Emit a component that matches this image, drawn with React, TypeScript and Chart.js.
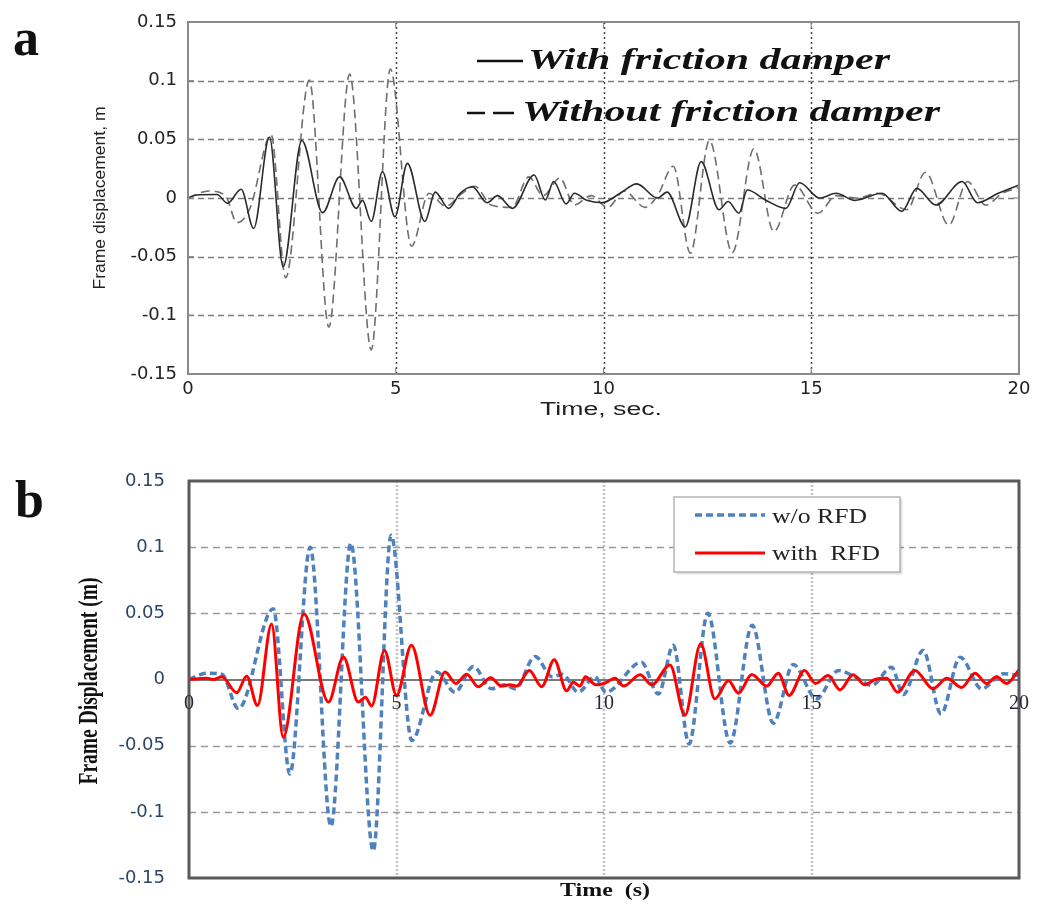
import React, { useEffect, useRef } from 'react';
import { Chart, registerables } from 'chart.js';
Chart.register(...registerables);

// ---------- axes ----------
const xTicks = [0, 5, 10, 15, 20];
const xTickLabels = ['0', '5', '10', '15', '20'];
const yTicks = [-0.15, -0.1, -0.05, 0, 0.05, 0.1, 0.15];
const yTickLabels = ['-0.15', '-0.1', '-0.05', '0', '0.05', '0.1', '0.15'];

// ---------- panel a : with / without friction damper ----------
const aTimeWith = [0, 0.2, 0.7, 0.95, 1.28, 1.58, 1.96, 2.29, 2.74, 3.24, 3.65, 4.05, 4.2, 4.41, 4.68, 4.98, 5.28, 5.7, 5.95, 6.27, 6.55, 6.84, 7.2, 7.45, 7.81, 8.33, 8.6, 8.8, 9.1, 9.3, 9.6, 9.96, 10.4, 10.8, 11.3, 11.53, 11.97, 12.35, 12.78, 13.0, 13.26, 13.46, 13.9, 14.39, 14.72, 15.2, 15.6, 16.05, 16.7, 17.18, 17.54, 18.0, 18.63, 19.0, 19.5, 20];
const aDispWith = [0, 0.0026, 0.003, -0.0045, 0.0074, -0.026, 0.052, -0.0585, 0.049, -0.0125, 0.018, -0.0088, -0.002, -0.02, 0.0224, -0.016, 0.0295, -0.02, 0.005, -0.0088, 0.004, 0.0096, -0.004, 0.002, -0.0088, 0.0196, -0.0017, 0.014, -0.005, 0.004, -0.002, -0.004, 0.004, 0.012, 0.0, 0.005, -0.0245, 0.031, -0.01, -0.003, -0.013, 0.0068, -0.0017, -0.0088, 0.013, 0.0, 0.004, -0.002, 0.004, -0.0114, 0.0082, -0.006, 0.014, -0.004, 0.004, 0.011];
const aTimeWithout = [0, 0.5, 0.9, 1.18, 1.5, 2.0, 2.35, 2.92, 3.39, 3.89, 4.41, 4.87, 5.38, 5.8, 6.2, 6.6, 6.9, 7.3, 7.8, 8.2, 8.55, 8.95, 9.3, 9.7, 10.1, 10.5, 11.0, 11.3, 11.68, 12.09, 12.55, 13.1, 13.62, 14.1, 14.6, 15.16, 15.6, 16.1, 16.6, 17.3, 17.75, 18.31, 18.76, 19.2, 19.6, 20];
const aDispWithout = [0, 0.006, 0.002, -0.021, -0.008, 0.054, -0.068, 0.1005, -0.11, 0.1056, -0.1295, 0.11, -0.041, 0.004, -0.007, 0.004, 0.01, -0.006, -0.008, 0.018, 0.002, 0.017, -0.006, 0.002, -0.008, 0.006, -0.008, 0.002, 0.027, -0.047, 0.049, -0.0466, 0.042, -0.0287, 0.011, -0.013, 0.002, 0.0, 0.004, -0.01, 0.022, -0.023, 0.014, -0.006, 0.004, 0.009];
const legendA = ['With friction damper', 'Without friction damper'];

// ---------- panel b : w/o RFD / with RFD ----------
const bTimeWithout = [0, 0.43, 0.79, 1.19, 2.03, 2.43, 2.92, 3.42, 3.9, 4.44, 4.87, 5.37, 5.97, 6.41, 6.85, 7.29, 7.6, 7.86, 8.34, 8.75, 9.0, 9.38, 9.78, 10.05, 10.9, 11.31, 11.67, 12.05, 12.5, 13.04, 13.57, 14.08, 14.56, 15.12, 15.65, 16.05, 16.45, 16.93, 17.21, 17.69, 18.12, 18.58, 19.1, 19.62, 20];
const bDispWithout = [0, 0.0048, 0.004, -0.022, 0.0535, -0.0715, 0.1, -0.111, 0.103, -0.1295, 0.109, -0.046, 0.0056, -0.0096, 0.0098, -0.007, -0.004, -0.007, 0.0174, 0.002, 0.004, -0.0096, 0.002, -0.0096, 0.013, -0.011, 0.0258, -0.0487, 0.05, -0.048, 0.041, -0.033, 0.0114, -0.0146, 0.0068, 0.002, -0.0045, 0.0093, -0.0114, 0.022, -0.026, 0.0169, -0.007, 0.0043, 0.003];
const bTimeWith = [0, 0.42, 0.6, 0.79, 1.15, 1.39, 1.65, 1.99, 2.27, 2.77, 3.36, 3.72, 4.08, 4.25, 4.4, 4.71, 5.0, 5.36, 5.81, 6.17, 6.43, 6.69, 6.97, 7.27, 7.53, 7.73, 7.9, 8.2, 8.5, 8.8, 9.1, 9.26, 9.42, 9.55, 9.8, 10.0, 10.27, 10.47, 10.87, 11.15, 11.59, 11.95, 12.33, 12.67, 13.0, 13.24, 13.56, 13.92, 14.2, 14.46, 14.83, 15.1, 15.4, 15.69, 16.0, 16.29, 16.53, 16.81, 17.07, 17.49, 17.93, 18.26, 18.62, 18.94, 19.22, 19.46, 19.7, 20.0];
const bDispWith = [0, 0.001, 0.0, 0.002, -0.01, 0.0025, -0.0197, 0.042, -0.0437, 0.0497, -0.017, 0.017, -0.017, -0.0135, -0.02, 0.022, -0.012, 0.0258, -0.027, 0.0056, -0.003, 0.004, -0.0055, 0.0013, -0.005, -0.004, -0.005, 0.0068, -0.0055, 0.015, -0.0085, -0.002, -0.005, 0.002, -0.004, -0.003, 0.001, -0.005, 0.0035, -0.004, 0.011, -0.027, 0.027, -0.0146, -0.001, -0.0104, 0.0038, -0.005, 0.0048, -0.012, 0.0068, -0.003, 0.003, -0.0078, 0.0035, -0.004, 0.0, 0.001, -0.0096, 0.0068, -0.007, 0.001, -0.006, 0.0048, -0.003, 0.002, -0.003, 0.0073];
const legendB = ['w/o RFD', 'with  RFD'];

const gridXValues = xTicks.filter((v) => v > 0 && v < 20);
const gridYValues = yTicks.filter((v) => Math.abs(v) < 0.14);

function pts(t: number[], v: number[]) {
  const n = Math.min(t.length, v.length);
  const out: { x: number; y: number }[] = [];
  for (let i = 0; i < n; i++) out.push({ x: t[i], y: v[i] });
  return out;
}

function txt(
  ctx: CanvasRenderingContext2D,
  s: string,
  x: number,
  y: number,
  font: string,
  color: string,
  o: { width?: number; align?: CanvasTextAlign; rotate?: number; baseline?: CanvasTextBaseline } = {}
) {
  ctx.save();
  ctx.font = font;
  ctx.fillStyle = color;
  ctx.textBaseline = o.baseline || 'alphabetic';
  ctx.textAlign = o.align || 'left';
  const w = ctx.measureText(s).width;
  const sx = o.width ? o.width / w : 1;
  ctx.translate(x, y);
  if (o.rotate) ctx.rotate(o.rotate);
  ctx.scale(sx, 1);
  ctx.fillText(s, 0, 0);
  ctx.restore();
}

function hLine(ctx: CanvasRenderingContext2D, x1: number, x2: number, y: number) {
  ctx.beginPath();
  ctx.moveTo(x1, y);
  ctx.lineTo(x2, y);
  ctx.stroke();
}
function vLine(ctx: CanvasRenderingContext2D, x: number, y1: number, y2: number) {
  ctx.beginPath();
  ctx.moveTo(x, y1);
  ctx.lineTo(x, y2);
  ctx.stroke();
}

const SANS = "'Liberation Sans', Arial, sans-serif";
const SERIF = "'Liberation Serif', 'Times New Roman', serif";

const panelAPlugin = {
  id: 'panelA',
  beforeDatasetsDraw(chart: any) {
    const { ctx, chartArea: ca, scales } = chart;
    const x = scales.x, y = scales.y;
    ctx.save();
    ctx.lineWidth = 1.4;
    ctx.strokeStyle = '#7c7c7c';
    ctx.setLineDash([6, 4]);
    for (const v of gridYValues) hLine(ctx, ca.left, ca.right, Math.round(y.getPixelForValue(v)) + 0.5);
    ctx.strokeStyle = '#3a3a3a';
    ctx.setLineDash([2, 3]);
    for (const t of gridXValues) vLine(ctx, Math.round(x.getPixelForValue(t)) + 0.5, ca.top, ca.bottom);
    ctx.restore();
  },
  afterDraw(chart: any) {
    const { ctx, chartArea: ca, scales } = chart;
    const x = scales.x, y = scales.y;
    ctx.save();
    ctx.strokeStyle = '#8a8a8a';
    ctx.lineWidth = 2;
    ctx.setLineDash([]);
    ctx.strokeRect(ca.left, ca.top, ca.width, ca.height);
    ctx.lineWidth = 1.2;
    for (const v of yTicks) {
      const py = y.getPixelForValue(v);
      hLine(ctx, ca.left, ca.left + 6, py);
      hLine(ctx, ca.right - 6, ca.right, py);
    }
    for (const t of xTicks) {
      const px = x.getPixelForValue(t);
      vLine(ctx, px, ca.bottom - 6, ca.bottom);
      vLine(ctx, px, ca.top, ca.top + 6);
    }
    // legend
    ctx.strokeStyle = '#111';
    ctx.lineWidth = 2.5;
    hLine(ctx, 477, 523, 61);
    hLine(ctx, 467, 485, 113);
    hLine(ctx, 493, 514, 113);
    ctx.restore();
    const lf = `italic bold 30px ${SERIF}`;
    txt(ctx, legendA[0], 528, 69, lf, '#111', { width: 362 });
    txt(ctx, legendA[1], 522, 121, lf, '#111', { width: 418 });
    // axis titles
    txt(ctx, 'Frame displacement, m', 100, 198, `17px ${SANS}`, '#222', { width: 183, align: 'center', baseline: 'middle', rotate: -Math.PI / 2 });
    txt(ctx, 'Time, sec.', 601, 410, `18px ${SANS}`, '#222', { width: 122, align: 'center', baseline: 'middle' });
    txt(ctx, 'a', 13, 55, `bold 52px ${SERIF}`, '#111');
  },
};

const panelBPlugin = {
  id: 'panelB',
  beforeDatasetsDraw(chart: any) {
    const { ctx, chartArea: ca, scales } = chart;
    const x = scales.x, y = scales.y;
    ctx.save();
    ctx.strokeStyle = '#c2c2c2';
    ctx.lineWidth = 2.5;
    ctx.setLineDash([2, 2]);
    for (const t of gridXValues) vLine(ctx, Math.round(x.getPixelForValue(t)), ca.top, ca.bottom);
    ctx.strokeStyle = '#9a9a9a';
    ctx.lineWidth = 1.5;
    ctx.setLineDash([7, 5]);
    for (const v of gridYValues) {
      if (v === 0) continue;
      hLine(ctx, ca.left, ca.right, Math.round(y.getPixelForValue(v)) + 0.5);
    }
    ctx.setLineDash([]);
    ctx.strokeStyle = '#7a7a7a';
    ctx.lineWidth = 2;
    hLine(ctx, ca.left, ca.right, Math.round(y.getPixelForValue(0)));
    ctx.restore();
  },
  afterDraw(chart: any) {
    const { ctx, chartArea: ca, scales } = chart;
    const x = scales.x, y = scales.y;
    ctx.save();
    ctx.strokeStyle = '#5a5a5a';
    ctx.lineWidth = 3;
    ctx.setLineDash([]);
    ctx.strokeRect(ca.left, ca.top, ca.width, ca.height);
    ctx.restore();
    // x tick labels on the zero line
    const y0 = y.getPixelForValue(0) + 24;
    xTicks.forEach((t, i) => {
      txt(ctx, xTickLabels[i], x.getPixelForValue(t), y0, `20px ${SERIF}`, '#25253a', { align: 'center', baseline: 'middle' });
    });
    // legend box
    ctx.save();
    ctx.shadowColor = 'rgba(0,0,0,0.18)';
    ctx.shadowOffsetX = 2;
    ctx.shadowOffsetY = 2;
    ctx.shadowBlur = 2;
    ctx.fillStyle = '#fff';
    ctx.fillRect(674, 47, 226, 75);
    ctx.shadowColor = 'transparent';
    ctx.strokeStyle = '#b5b5b5';
    ctx.lineWidth = 1.5;
    ctx.strokeRect(674, 47, 226, 75);
    ctx.strokeStyle = '#4f81bd';
    ctx.lineWidth = 3.5;
    ctx.setLineDash([7, 4]);
    hLine(ctx, 695, 765, 65);
    ctx.setLineDash([]);
    ctx.strokeStyle = '#ff0000';
    ctx.lineWidth = 3;
    hLine(ctx, 695, 765, 103);
    ctx.restore();
    txt(ctx, legendB[0], 772, 73, `22px ${SERIF}`, '#222', { width: 95 });
    txt(ctx, legendB[1], 772, 110, `22px ${SERIF}`, '#222', { width: 108 });
    // titles
    txt(ctx, 'Frame Displacement (m)', 90, 231, `bold 27px ${SERIF}`, '#111', { width: 207, align: 'center', baseline: 'middle', rotate: -Math.PI / 2 });
    txt(ctx, 'Time  (s)', 605, 441, `bold 19px ${SERIF}`, '#111', { width: 90, align: 'center', baseline: 'middle' });
    txt(ctx, 'b', 15, 67, `bold 52px ${SERIF}`, '#111');
  },
};

function setYTicks(s: any) {
  s.ticks = yTicks.map((v) => ({ value: v }));
}
function setXTicks(s: any) {
  s.ticks = xTicks.map((v) => ({ value: v }));
}
function fixWidth(w: number) {
  return (s: any) => {
    s.width = w;
    s.paddingTop = 0;
    s.paddingBottom = 0;
  };
}
function fixHeight(h: number) {
  return (s: any) => {
    s.height = h;
    s.paddingLeft = 0;
    s.paddingRight = 0;
  };
}

function configA(): any {
  return {
    type: 'line',
    data: {
      datasets: [
        { label: legendA[0], data: pts(aTimeWith, aDispWith), borderColor: '#2a2a2a', borderWidth: 1.6, pointRadius: 0, cubicInterpolationMode: 'monotone', order: 0 },
        { label: legendA[1], data: pts(aTimeWithout, aDispWithout), borderColor: '#6e6e6e', borderWidth: 1.6, borderDash: [9, 5], pointRadius: 0, cubicInterpolationMode: 'monotone', order: 1 },
      ],
    },
    options: {
      animation: false,
      responsive: false,
      devicePixelRatio: 1,
      layout: { padding: { left: 0, top: 22, right: 18, bottom: 0 } },
      plugins: { legend: { display: false }, tooltip: { enabled: false } },
      scales: {
        x: {
          type: 'linear', min: 0, max: 20,
          afterBuildTicks: setXTicks,
          afterFit: fixHeight(66),
          grid: { display: false, drawTicks: false },
          border: { display: false },
          ticks: { padding: 5, color: '#222', font: { family: 'DejaVu Sans', size: 18 }, maxRotation: 0, callback: (_v: any, i: number) => xTickLabels[i] },
        },
        y: {
          type: 'linear', min: -0.15, max: 0.15,
          afterBuildTicks: setYTicks,
          afterFit: fixWidth(188),
          grid: { display: false, drawTicks: false },
          border: { display: false },
          ticks: { padding: 11, color: '#222', font: { family: 'DejaVu Sans', size: 18 }, callback: (_v: any, i: number) => yTickLabels[i] },
        },
      },
    },
    plugins: [panelAPlugin],
  };
}

function configB(): any {
  return {
    type: 'line',
    data: {
      datasets: [
        { label: legendB[1], data: pts(bTimeWith, bDispWith), borderColor: '#ff0000', borderWidth: 3, pointRadius: 0, cubicInterpolationMode: 'monotone', order: 0 },
        { label: legendB[0], data: pts(bTimeWithout, bDispWithout), borderColor: '#4f81bd', borderWidth: 3.5, borderDash: [7, 4], pointRadius: 0, cubicInterpolationMode: 'monotone', order: 1 },
      ],
    },
    options: {
      animation: false,
      responsive: false,
      devicePixelRatio: 1,
      layout: { padding: { left: 0, top: 31, right: 18, bottom: 29 } },
      plugins: { legend: { display: false }, tooltip: { enabled: false } },
      scales: {
        x: { type: 'linear', min: 0, max: 20, display: false, afterBuildTicks: setXTicks },
        y: {
          type: 'linear', min: -0.15, max: 0.15,
          afterBuildTicks: setYTicks,
          afterFit: fixWidth(189),
          grid: { display: false, drawTicks: false },
          border: { display: false },
          ticks: { padding: 24, color: '#2d4565', font: { family: 'DejaVu Sans', size: 18 }, callback: (_v: any, i: number) => yTickLabels[i] },
        },
      },
    },
    plugins: [panelBPlugin],
  };
}

export default function App() {
  const refA = useRef<HTMLCanvasElement>(null);
  const refB = useRef<HTMLCanvasElement>(null);
  useEffect(() => {
    const a = new Chart(refA.current as HTMLCanvasElement, configA());
    const b = new Chart(refB.current as HTMLCanvasElement, configB());
    return () => {
      a.destroy();
      b.destroy();
    };
  }, []);
  return (
    <div style={{ position: 'absolute', left: 0, top: 0, width: 1037, height: 907, background: '#fff' }}>
      <canvas ref={refA} width={1037} height={440} style={{ position: 'absolute', left: 0, top: 0, width: 1037, height: 440 }} />
      <canvas ref={refB} width={1037} height={457} style={{ position: 'absolute', left: 0, top: 450, width: 1037, height: 457 }} />
    </div>
  );
}
